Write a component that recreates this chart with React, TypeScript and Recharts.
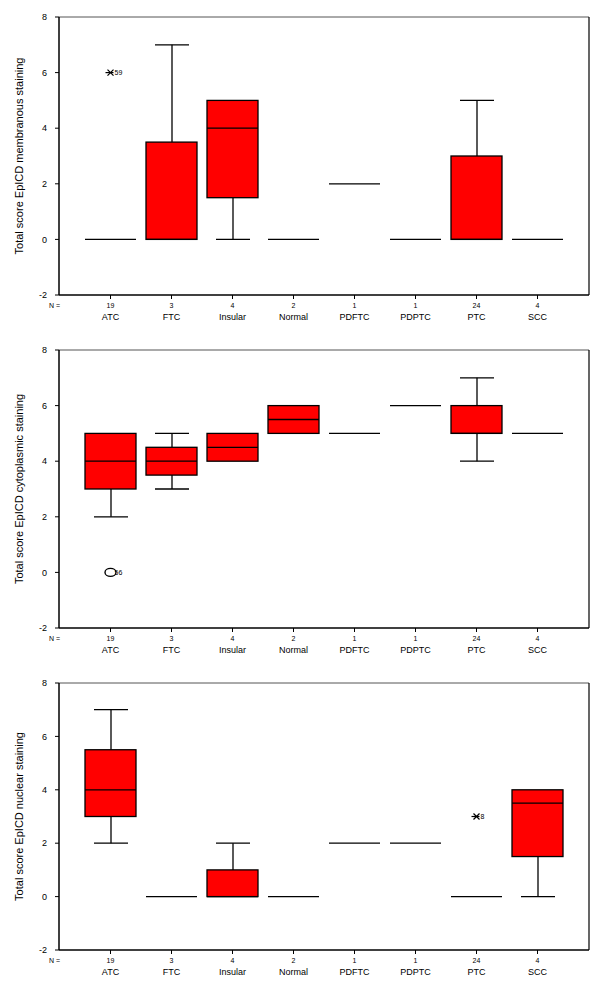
import React from 'react';
import { ComposedChart, Bar, Scatter, XAxis, YAxis } from 'recharts';

const categories = ['ATC', 'FTC', 'Insular', 'Normal', 'PDFTC', 'PDPTC', 'PTC', 'SCC'];
const counts = [19, 3, 4, 2, 1, 1, 24, 4];
const yTicks = [-2, 0, 2, 4, 6, 8];

// membranous staining
const memMin = [0, 0, 0, 0, 2, 0, 0, 0];
const memQ1 = [0, 0, 1.5, 0, 2, 0, 0, 0];
const memMed = [0, 0, 4, 0, 2, 0, 0, 0];
const memQ3 = [0, 3.5, 5, 0, 2, 0, 3, 0];
const memMax = [0, 7, 5, 0, 2, 0, 5, 0];
const memOutlier = [6, null, null, null, null, null, null, null];
const memOutlierKind = ['extreme', '', '', '', '', '', '', ''];
const memOutlierLabel = ['59', '', '', '', '', '', '', ''];

// cytoplasmic staining
const cytMin = [2, 3, 4, 5, 5, 6, 4, 5];
const cytQ1 = [3, 3.5, 4, 5, 5, 6, 5, 5];
const cytMed = [4, 4, 4.5, 5.5, 5, 6, 5, 5];
const cytQ3 = [5, 4.5, 5, 6, 5, 6, 6, 5];
const cytMax = [5, 5, 5, 6, 5, 6, 7, 5];
const cytOutlier = [0, null, null, null, null, null, null, null];
const cytOutlierKind = ['outlier', '', '', '', '', '', '', ''];
const cytOutlierLabel = ['56', '', '', '', '', '', '', ''];

// nuclear staining
const nucMin = [2, 0, 0, 0, 2, 2, 0, 0];
const nucQ1 = [3, 0, 0, 0, 2, 2, 0, 1.5];
const nucMed = [4, 0, 0, 0, 2, 2, 0, 3.5];
const nucQ3 = [5.5, 0, 1, 0, 2, 2, 0, 4];
const nucMax = [7, 0, 2, 0, 2, 2, 0, 4];
const nucOutlier = [null, null, null, null, null, null, 3, null];
const nucOutlierKind = ['', '', '', '', '', '', 'extreme', ''];
const nucOutlierLabel = ['', '', '', '', '', '', '8', ''];

const FONT = '"Liberation Sans", Arial, sans-serif';

const buildRows = (
    min: number[], q1: number[], med: number[], q3: number[], max: number[],
    out: (number | null)[], kind: string[], label: string[],
) =>
    categories.map((cat, i) => ({
        cat,
        box: [q1[i], q3[i]],
        med: [med[i], med[i]],
        upper: [q3[i], max[i]],
        lower: [min[i], q1[i]],
        outlier: out[i],
        kind: kind[i],
        label: label[i],
    }));

const BoxShape = (p: any) => {
    if (!p.height || Math.abs(p.height) < 0.5) return null;
    return <rect x={p.x} y={p.y} width={p.width} height={p.height} fill="#FF0000" stroke="#000" strokeWidth={1.3} />;
};

const MedianShape = (p: any) => (
    <line x1={p.x} x2={p.x + p.width} y1={p.y} y2={p.y} stroke="#000" strokeWidth={1.3} />
);

const UpperShape = (p: any) => {
    if (!p.height || Math.abs(p.height) < 0.5) return null;
    const cx = p.x + p.width / 2;
    return (
        <g stroke="#000" strokeWidth={1.3}>
            <line x1={cx} x2={cx} y1={p.y} y2={p.y + p.height} />
            <line x1={p.x} x2={p.x + p.width} y1={p.y} y2={p.y} />
        </g>
    );
};

const LowerShape = (p: any) => {
    if (!p.height || Math.abs(p.height) < 0.5) return null;
    const cx = p.x + p.width / 2;
    return (
        <g stroke="#000" strokeWidth={1.3}>
            <line x1={cx} x2={cx} y1={p.y} y2={p.y + p.height} />
            <line x1={p.x} x2={p.x + p.width} y1={p.y + p.height} y2={p.y + p.height} />
        </g>
    );
};

const OutlierShape = (p: any) => {
    const d = p.payload;
    if (!d || d.outlier == null || !Number.isFinite(p.cx) || !Number.isFinite(p.cy)) return null;
    const { cx, cy } = p;
    if (d.kind === 'outlier') {
        return (
            <g>
                <text x={cx + 4} y={cy + 2.5} fontSize={7} fontFamily={FONT} fill="#000">{d.label}</text>
                <ellipse cx={cx} cy={cy} rx={5.5} ry={4} fill="none" stroke="#000" strokeWidth={1.4} />
            </g>
        );
    }
    return (
        <g>
            <g stroke="#000" strokeWidth={1.2}>
                <line x1={cx - 5} x2={cx + 3} y1={cy} y2={cy} />
                <line x1={cx - 3} x2={cx + 3} y1={cy - 3} y2={cy + 3} />
                <line x1={cx - 3} x2={cx + 3} y1={cy + 3} y2={cy - 3} />
            </g>
            <text x={cx + 4} y={cy + 2.5} fontSize={7} fontFamily={FONT} fill="#000">{d.label}</text>
        </g>
    );
};

const CatTick = (p: any) => {
    const { x, y, payload } = p;
    const i = categories.indexOf(payload.value);
    return (
        <g fontFamily={FONT} fill="#000">
            {i === 0 && (
                <text x={x - 56} y={y + 8.5} fontSize={7} textAnchor="middle">N =</text>
            )}
            <text x={x} y={y + 8.5} fontSize={7} textAnchor="middle">{counts[i]}</text>
            <text x={x} y={y + 21} fontSize={9} textAnchor="middle">{payload.value}</text>
        </g>
    );
};

const YLabel = ({ viewBox, text }: { viewBox?: any; text: string }) => {
    if (!viewBox) return null;
    const x = viewBox.x + 19;
    const y = viewBox.y + viewBox.height / 2;
    return (
        <text x={x} y={y} transform={`rotate(-90, ${x}, ${y})`} textAnchor="middle" dominantBaseline="central"
            fontSize={11} fontFamily={FONT} fill="#000">
            {text}
        </text>
    );
};

const pad = { left: 21, right: 21 };

function Panel({ rows, label, top, height }: { rows: any[]; label: string; top: number; height: number }) {
    return (
        <div style={{ position: 'absolute', left: 0, top, width: 600, height }}>
            <ComposedChart width={600} height={height} data={rows} margin={{ top: 16, right: 10, bottom: 0, left: 0 }}>
                <XAxis xAxisId="main" dataKey="cat" type="category" padding={pad} height={35}
                    tick={<CatTick />} tickSize={4} tickMargin={0} interval={0}
                    axisLine={{ stroke: '#000', strokeWidth: 1.5 }} tickLine={{ stroke: '#000' }} />
                <XAxis xAxisId="box" dataKey="cat" type="category" padding={pad} height={0} hide />
                <XAxis xAxisId="med" dataKey="cat" type="category" padding={pad} height={0} hide />
                <XAxis xAxisId="upper" dataKey="cat" type="category" padding={pad} height={0} hide />
                <XAxis xAxisId="lower" dataKey="cat" type="category" padding={pad} height={0} hide />
                <XAxis xAxisId="top" dataKey="cat" type="category" orientation="top" height={1}
                    tick={false} tickLine={false} axisLine={{ stroke: '#555', strokeWidth: 1 }} />
                <YAxis type="number" domain={[-2, 8]} ticks={yTicks} width={59} tickSize={4} tickMargin={8}
                    interval={0} tick={{ fontSize: 9, fill: '#000', fontFamily: FONT }}
                    axisLine={{ stroke: '#000', strokeWidth: 1.5 }} tickLine={{ stroke: '#000' }}
                    label={{ content: (lp: any) => <YLabel viewBox={lp.viewBox} text={label} /> }} />
                <YAxis yAxisId="right" orientation="right" type="number" domain={[-2, 8]} width={1}
                    tick={false} tickLine={false} axisLine={{ stroke: '#000', strokeWidth: 1.2 }} />
                <Bar xAxisId="upper" dataKey="upper" barSize={34} shape={<UpperShape />} isAnimationActive={false} />
                <Bar xAxisId="lower" dataKey="lower" barSize={34} shape={<LowerShape />} isAnimationActive={false} />
                <Bar xAxisId="box" dataKey="box" barSize={51} shape={<BoxShape />} isAnimationActive={false} />
                <Bar xAxisId="med" dataKey="med" barSize={51} shape={<MedianShape />} isAnimationActive={false} />
                <Scatter xAxisId="main" dataKey="outlier" shape={<OutlierShape />} isAnimationActive={false} />
            </ComposedChart>
        </div>
    );
}

const memRows = buildRows(memMin, memQ1, memMed, memQ3, memMax, memOutlier, memOutlierKind, memOutlierLabel);
const cytRows = buildRows(cytMin, cytQ1, cytMed, cytQ3, cytMax, cytOutlier, cytOutlierKind, cytOutlierLabel);
const nucRows = buildRows(nucMin, nucQ1, nucMed, nucQ3, nucMax, nucOutlier, nucOutlierKind, nucOutlierLabel);

export default function App() {
    return (
        <div style={{ position: 'absolute', left: 0, top: 0, width: 600, height: 989, background: '#fff' }}>
            <Panel rows={memRows} label="Total score EpICD membranous staining" top={0} height={330} />
            <Panel rows={cytRows} label="Total score EpICD cytoplasmic staining" top={333} height={330} />
            <Panel rows={nucRows} label="Total score EpICD nuclear staining" top={666} height={319} />
        </div>
    );
}
